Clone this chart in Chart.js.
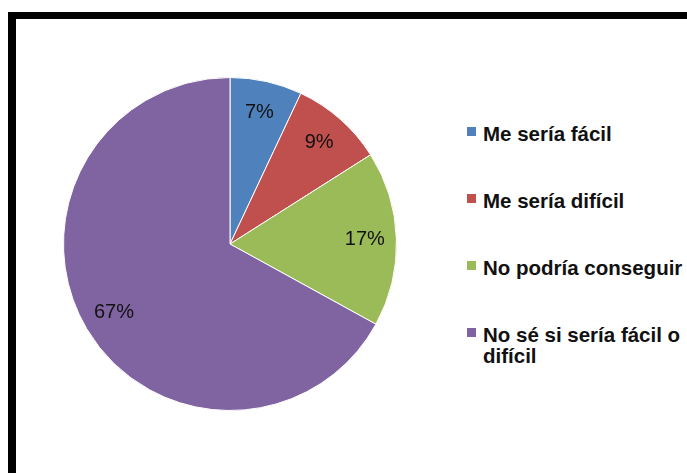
<!DOCTYPE html>
<html>
<head>
<meta charset="utf-8">
<script src="https://cdn.jsdelivr.net/npm/chart.js@4/dist/chart.umd.min.js"></script>
<style>
  html, body { margin: 0; padding: 0; background: #fff; width: 687px; height: 473px; overflow: hidden; }
  #frame {
    position: absolute; left: 8px; top: 12px; width: 720px; height: 500px;
    border-left: 8px solid #000; border-top: 7px solid #000;
  }
  #pie-wrap { position: absolute; left: 63px; top: 77px; width: 334px; height: 334px; }
  .legend-item {
    position: absolute; left: 483px; width: 204px;
    font: bold 20.5px "Liberation Sans", Arial, sans-serif; line-height: 21px; color: #111;
  }
  .legend-box { position: absolute; left: 467px; width: 9px; height: 9px; }
</style>
</head>
<body>
<div id="frame"></div>
<div id="pie-wrap"><canvas id="pie-chart"></canvas></div>
<div id="legend"></div>
<script>
// Chart data
const labels = ['Me sería fácil', 'Me sería difícil', 'No podría conseguir', 'No sé si sería fácil o difícil'];
const values = [7, 9, 17, 67];
const colors = ['#4F81BD', '#C0504D', '#9BBB59', '#8064A2'];

// Percentage labels inside the slices
const sliceLabels = {
  id: 'sliceLabels',
  afterDatasetsDraw(chart) {
    const ctx = chart.ctx;
    const meta = chart.getDatasetMeta(0);
    ctx.save();
    ctx.font = '20px "Liberation Sans", Arial, sans-serif';
    ctx.fillStyle = '#111';
    ctx.textAlign = 'center';
    ctx.textBaseline = 'middle';
    meta.data.forEach((arc, i) => {
      const mid = (arc.startAngle + arc.endAngle) / 2;
      const r = arc.outerRadius * 0.81;
      ctx.fillText(values[i] + '%', arc.x + Math.cos(mid) * r, arc.y + Math.sin(mid) * r);
    });
    ctx.restore();
  }
};

new Chart(document.getElementById('pie-chart').getContext('2d'), {
  type: 'pie',
  data: {
    labels: labels,
    datasets: [{
      data: values,
      backgroundColor: colors,
      borderColor: '#ffffff',
      borderWidth: 1
    }]
  },
  options: {
    responsive: true,
    maintainAspectRatio: false,
    animation: false,
    layout: { padding: 0 },
    plugins: {
      legend: { display: false },
      tooltip: { enabled: false }
    }
  },
  plugins: [sliceLabels]
});

// Legend on the right (HTML, so the long label can wrap)
const legend = document.getElementById('legend');
labels.forEach((text, i) => {
  const mid = 134 + i * 67;
  const box = document.createElement('div');
  box.className = 'legend-box';
  box.style.top = (mid - 7) + 'px';
  box.style.background = colors[i];
  legend.appendChild(box);
  const item = document.createElement('div');
  item.className = 'legend-item';
  item.style.top = (mid - 11) + 'px';
  item.textContent = text;
  legend.appendChild(item);
});
</script>
</body>
</html>
